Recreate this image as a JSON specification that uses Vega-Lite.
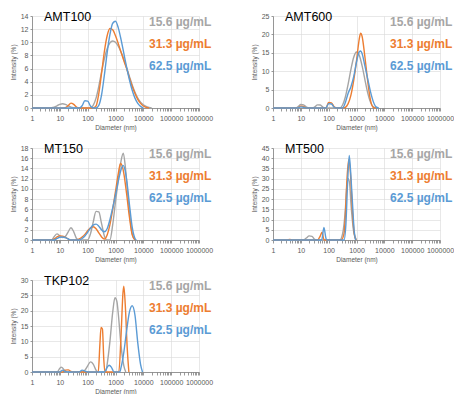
{
  "$schema": "https://vega.github.io/schema/vega-lite/v6.json",
  "background": "white",
  "padding": {"left": 10, "top": 10, "right": 0, "bottom": 0},
  "datasets": {
    "AMT100": [
      {"c":"15.6","d":1,"i":0},{"c":"15.6","d":3.98,"i":0.01},{"c":"15.6","d":5.01,"i":0.04},{"c":"15.6","d":6.31,"i":0.14},{"c":"15.6","d":7.94,"i":0.33},{"c":"15.6","d":10,"i":0.55},{"c":"15.6","d":12.6,"i":0.65},{"c":"15.6","d":15.8,"i":0.55},{"c":"15.6","d":20,"i":0.33},{"c":"15.6","d":25.1,"i":0.14},{"c":"15.6","d":31.6,"i":0.04},{"c":"15.6","d":39.8,"i":0},{"c":"15.6","d":126,"i":0},{"c":"15.6","d":158,"i":0.4},{"c":"15.6","d":200,"i":1.5},{"c":"15.6","d":251,"i":3.3},{"c":"15.6","d":316,"i":5.5},{"c":"15.6","d":398,"i":7.5},{"c":"15.6","d":501,"i":9.0},{"c":"15.6","d":631,"i":9.9},{"c":"15.6","d":794,"i":10.2},{"c":"15.6","d":1000,"i":10.0},{"c":"15.6","d":1259,"i":9.4},{"c":"15.6","d":1585,"i":8.5},{"c":"15.6","d":1995,"i":7.4},{"c":"15.6","d":2512,"i":6.1},{"c":"15.6","d":3162,"i":4.8},{"c":"15.6","d":3981,"i":3.5},{"c":"15.6","d":5012,"i":2.4},{"c":"15.6","d":6310,"i":1.5},{"c":"15.6","d":7943,"i":0.9},{"c":"15.6","d":10000,"i":0.5},{"c":"15.6","d":12589,"i":0.25},{"c":"15.6","d":15849,"i":0.1},{"c":"15.6","d":19953,"i":0},
      {"c":"31.3","d":1,"i":0},{"c":"31.3","d":12.6,"i":0},{"c":"31.3","d":15.8,"i":0.07},{"c":"31.3","d":20,"i":0.36},{"c":"31.3","d":25.1,"i":0.74},{"c":"31.3","d":31.6,"i":0.55},{"c":"31.3","d":39.8,"i":0.15},{"c":"31.3","d":50.1,"i":0},{"c":"31.3","d":158,"i":0},{"c":"31.3","d":200,"i":0.3},{"c":"31.3","d":251,"i":2.2},{"c":"31.3","d":316,"i":5.3},{"c":"31.3","d":398,"i":8.6},{"c":"31.3","d":501,"i":11.0},{"c":"31.3","d":631,"i":12.1},{"c":"31.3","d":794,"i":11.9},{"c":"31.3","d":1000,"i":11.0},{"c":"31.3","d":1259,"i":9.8},{"c":"31.3","d":1585,"i":8.5},{"c":"31.3","d":1995,"i":7.2},{"c":"31.3","d":2512,"i":6.0},{"c":"31.3","d":3162,"i":4.6},{"c":"31.3","d":3981,"i":3.3},{"c":"31.3","d":5012,"i":2.2},{"c":"31.3","d":6310,"i":1.3},{"c":"31.3","d":7943,"i":0.7},{"c":"31.3","d":10000,"i":0.3},{"c":"31.3","d":12589,"i":0.1},{"c":"31.3","d":15849,"i":0},
      {"c":"62.5","d":1,"i":0},{"c":"62.5","d":50.1,"i":0},{"c":"62.5","d":63.1,"i":0.35},{"c":"62.5","d":79.4,"i":1.1},{"c":"62.5","d":100,"i":1.05},{"c":"62.5","d":126,"i":0.3},{"c":"62.5","d":158,"i":0},{"c":"62.5","d":200,"i":0},{"c":"62.5","d":251,"i":0.4},{"c":"62.5","d":316,"i":2.0},{"c":"62.5","d":398,"i":5.0},{"c":"62.5","d":501,"i":8.4},{"c":"62.5","d":631,"i":11.2},{"c":"62.5","d":794,"i":12.9},{"c":"62.5","d":1000,"i":13.2},{"c":"62.5","d":1259,"i":12.2},{"c":"62.5","d":1585,"i":10.4},{"c":"62.5","d":1995,"i":8.3},{"c":"62.5","d":2512,"i":6.2},{"c":"62.5","d":3162,"i":4.3},{"c":"62.5","d":3981,"i":2.7},{"c":"62.5","d":5012,"i":1.5},{"c":"62.5","d":6310,"i":0.7},{"c":"62.5","d":7943,"i":0.25},{"c":"62.5","d":10000,"i":0}
    ],
    "AMT600": [
      {"c":"15.6","d":1,"i":0},{"c":"15.6","d":6.31,"i":0},{"c":"15.6","d":7.94,"i":0.35},{"c":"15.6","d":10,"i":0.95},{"c":"15.6","d":12.6,"i":0.85},{"c":"15.6","d":15.8,"i":0.25},{"c":"15.6","d":20,"i":0},{"c":"15.6","d":25.1,"i":0},{"c":"15.6","d":31.6,"i":0.3},{"c":"15.6","d":39.8,"i":0.85},{"c":"15.6","d":50.1,"i":0.8},{"c":"15.6","d":63.1,"i":0.2},{"c":"15.6","d":79.4,"i":0},{"c":"15.6","d":251,"i":0},{"c":"15.6","d":316,"i":0.8},{"c":"15.6","d":398,"i":3.0},{"c":"15.6","d":501,"i":6.5},{"c":"15.6","d":631,"i":10.5},{"c":"15.6","d":794,"i":13.8},{"c":"15.6","d":1000,"i":15.2},{"c":"15.6","d":1259,"i":14.3},{"c":"15.6","d":1585,"i":11.5},{"c":"15.6","d":1995,"i":7.8},{"c":"15.6","d":2512,"i":4.2},{"c":"15.6","d":3162,"i":1.6},{"c":"15.6","d":3981,"i":0.3},{"c":"15.6","d":5012,"i":0},
      {"c":"31.3","d":1,"i":0},{"c":"31.3","d":7.94,"i":0},{"c":"31.3","d":10,"i":0.5},{"c":"31.3","d":12.6,"i":0.4},{"c":"31.3","d":15.8,"i":0},{"c":"31.3","d":79.4,"i":0},{"c":"31.3","d":100,"i":1.5},{"c":"31.3","d":126,"i":1.4},{"c":"31.3","d":158,"i":0.3},{"c":"31.3","d":200,"i":0},{"c":"31.3","d":316,"i":0},{"c":"31.3","d":398,"i":0.2},{"c":"31.3","d":501,"i":1.2},{"c":"31.3","d":631,"i":3.5},{"c":"31.3","d":794,"i":7.5},{"c":"31.3","d":1000,"i":12.8},{"c":"31.3","d":1122,"i":16.0},{"c":"31.3","d":1259,"i":18.8},{"c":"31.3","d":1413,"i":20.3},{"c":"31.3","d":1585,"i":19.5},{"c":"31.3","d":1995,"i":14.0},{"c":"31.3","d":2512,"i":7.5},{"c":"31.3","d":3162,"i":2.2},{"c":"31.3","d":3981,"i":0.2},{"c":"31.3","d":5012,"i":0},
      {"c":"62.5","d":1,"i":0},{"c":"62.5","d":7.94,"i":0},{"c":"62.5","d":10,"i":0.3},{"c":"62.5","d":12.6,"i":0.2},{"c":"62.5","d":15.8,"i":0},{"c":"62.5","d":79.4,"i":0},{"c":"62.5","d":100,"i":1.2},{"c":"62.5","d":126,"i":1.1},{"c":"62.5","d":158,"i":0.2},{"c":"62.5","d":200,"i":0},{"c":"62.5","d":316,"i":0},{"c":"62.5","d":398,"i":1.5},{"c":"62.5","d":501,"i":4.0},{"c":"62.5","d":631,"i":5.8},{"c":"62.5","d":794,"i":8.5},{"c":"62.5","d":1000,"i":12.5},{"c":"62.5","d":1259,"i":15.3},{"c":"62.5","d":1413,"i":15.5},{"c":"62.5","d":1585,"i":14.8},{"c":"62.5","d":1995,"i":11.5},{"c":"62.5","d":2512,"i":8.0},{"c":"62.5","d":3162,"i":4.5},{"c":"62.5","d":3981,"i":1.8},{"c":"62.5","d":5012,"i":0.3},{"c":"62.5","d":6310,"i":0}
    ],
    "MT150": [
      {"c":"15.6","d":1,"i":0},{"c":"15.6","d":5.01,"i":0},{"c":"15.6","d":6.31,"i":0.7},{"c":"15.6","d":7.94,"i":1.2},{"c":"15.6","d":10,"i":0.8},{"c":"15.6","d":12.6,"i":0.5},{"c":"15.6","d":15.8,"i":0.7},{"c":"15.6","d":20,"i":1.6},{"c":"15.6","d":25.1,"i":2.4},{"c":"15.6","d":31.6,"i":1.6},{"c":"15.6","d":39.8,"i":0.3},{"c":"15.6","d":50.1,"i":0},{"c":"15.6","d":100,"i":0},{"c":"15.6","d":126,"i":1.2},{"c":"15.6","d":158,"i":3.5},{"c":"15.6","d":200,"i":5.6},{"c":"15.6","d":251,"i":5.5},{"c":"15.6","d":316,"i":3.2},{"c":"15.6","d":398,"i":0.8},{"c":"15.6","d":501,"i":0},{"c":"15.6","d":631,"i":0},{"c":"15.6","d":794,"i":3.0},{"c":"15.6","d":1000,"i":7.5},{"c":"15.6","d":1259,"i":11.8},{"c":"15.6","d":1585,"i":15.5},{"c":"15.6","d":1905,"i":17.0},{"c":"15.6","d":2239,"i":14.5},{"c":"15.6","d":2512,"i":11.5},{"c":"15.6","d":3162,"i":5.5},{"c":"15.6","d":3981,"i":1.2},{"c":"15.6","d":5012,"i":0},
      {"c":"31.3","d":1,"i":0},{"c":"31.3","d":5.01,"i":0},{"c":"31.3","d":6.31,"i":0.2},{"c":"31.3","d":7.94,"i":0.6},{"c":"31.3","d":10,"i":0.8},{"c":"31.3","d":12.6,"i":0.75},{"c":"31.3","d":15.8,"i":0.5},{"c":"31.3","d":20,"i":0.2},{"c":"31.3","d":25.1,"i":0},{"c":"31.3","d":39.8,"i":0},{"c":"31.3","d":50.1,"i":0.2},{"c":"31.3","d":63.1,"i":0.6},{"c":"31.3","d":79.4,"i":1.1},{"c":"31.3","d":100,"i":1.8},{"c":"31.3","d":126,"i":2.4},{"c":"31.3","d":158,"i":2.6},{"c":"31.3","d":200,"i":2.2},{"c":"31.3","d":251,"i":1.4},{"c":"31.3","d":316,"i":0.6},{"c":"31.3","d":398,"i":0.2},{"c":"31.3","d":501,"i":1.0},{"c":"31.3","d":631,"i":3.0},{"c":"31.3","d":794,"i":6.0},{"c":"31.3","d":1000,"i":9.5},{"c":"31.3","d":1259,"i":13.0},{"c":"31.3","d":1514,"i":15.0},{"c":"31.3","d":1778,"i":14.3},{"c":"31.3","d":1995,"i":13.0},{"c":"31.3","d":2512,"i":9.0},{"c":"31.3","d":3162,"i":4.5},{"c":"31.3","d":3981,"i":1.0},{"c":"31.3","d":5012,"i":0},
      {"c":"62.5","d":1,"i":0},{"c":"62.5","d":6.31,"i":0},{"c":"62.5","d":7.94,"i":0.3},{"c":"62.5","d":10,"i":0.55},{"c":"62.5","d":12.6,"i":0.6},{"c":"62.5","d":15.8,"i":0.45},{"c":"62.5","d":20,"i":0.2},{"c":"62.5","d":25.1,"i":0},{"c":"62.5","d":50.1,"i":0},{"c":"62.5","d":63.1,"i":0.3},{"c":"62.5","d":79.4,"i":0.8},{"c":"62.5","d":100,"i":1.5},{"c":"62.5","d":126,"i":2.3},{"c":"62.5","d":158,"i":2.9},{"c":"62.5","d":200,"i":3.1},{"c":"62.5","d":251,"i":2.7},{"c":"62.5","d":316,"i":2.0},{"c":"62.5","d":398,"i":1.6},{"c":"62.5","d":501,"i":2.2},{"c":"62.5","d":631,"i":4.0},{"c":"62.5","d":794,"i":6.3},{"c":"62.5","d":1000,"i":8.8},{"c":"62.5","d":1259,"i":11.5},{"c":"62.5","d":1585,"i":13.8},{"c":"62.5","d":1862,"i":14.6},{"c":"62.5","d":2239,"i":13.5},{"c":"62.5","d":2512,"i":11.8},{"c":"62.5","d":3162,"i":7.0},{"c":"62.5","d":3981,"i":2.5},{"c":"62.5","d":5012,"i":0.3},{"c":"62.5","d":5623,"i":0}
    ],
    "MT500": [
      {"c":"15.6","d":1,"i":0},{"c":"15.6","d":12.6,"i":0},{"c":"15.6","d":15.8,"i":1.0},{"c":"15.6","d":20,"i":2.0},{"c":"15.6","d":25.1,"i":1.8},{"c":"15.6","d":31.6,"i":0.3},{"c":"15.6","d":39.8,"i":0},{"c":"15.6","d":251,"i":0},{"c":"15.6","d":316,"i":3.0},{"c":"15.6","d":398,"i":15.0},{"c":"15.6","d":447,"i":26.0},{"c":"15.6","d":501,"i":30.0},{"c":"15.6","d":562,"i":28.0},{"c":"15.6","d":631,"i":18.0},{"c":"15.6","d":794,"i":4.0},{"c":"15.6","d":1000,"i":0},
      {"c":"31.3","d":1,"i":0},{"c":"31.3","d":3.16,"i":0},{"c":"31.3","d":3.98,"i":0.3},{"c":"31.3","d":5.01,"i":0},{"c":"31.3","d":39.8,"i":0},{"c":"31.3","d":50.1,"i":2.0},{"c":"31.3","d":57.5,"i":3.8},{"c":"31.3","d":66.1,"i":0.5},{"c":"31.3","d":70.8,"i":0},{"c":"31.3","d":282,"i":0},{"c":"31.3","d":355,"i":3.0},{"c":"31.3","d":398,"i":12.0},{"c":"31.3","d":447,"i":28.0},{"c":"31.3","d":525,"i":39.3},{"c":"31.3","d":603,"i":33.0},{"c":"31.3","d":708,"i":15.0},{"c":"31.3","d":832,"i":3.0},{"c":"31.3","d":955,"i":0},
      {"c":"62.5","d":1,"i":0},{"c":"62.5","d":56.2,"i":0},{"c":"62.5","d":67.6,"i":6.1},{"c":"62.5","d":79.4,"i":1.0},{"c":"62.5","d":85.1,"i":0},{"c":"62.5","d":355,"i":0},{"c":"62.5","d":417,"i":8.0},{"c":"62.5","d":479,"i":28.0},{"c":"62.5","d":550,"i":41.4},{"c":"62.5","d":631,"i":31.0},{"c":"62.5","d":724,"i":17.0},{"c":"62.5","d":832,"i":4.0},{"c":"62.5","d":933,"i":0}
    ],
    "TKP102": [
      {"c":"15.6","d":1,"i":0},{"c":"15.6","d":7.94,"i":0},{"c":"15.6","d":10,"i":1.2},{"c":"15.6","d":11.2,"i":1.6},{"c":"15.6","d":12.6,"i":1.3},{"c":"15.6","d":15.8,"i":0.2},{"c":"15.6","d":17.8,"i":0},{"c":"15.6","d":63.1,"i":0},{"c":"15.6","d":79.4,"i":0.6},{"c":"15.6","d":100,"i":2.0},{"c":"15.6","d":126,"i":3.3},{"c":"15.6","d":158,"i":2.6},{"c":"15.6","d":200,"i":0.6},{"c":"15.6","d":224,"i":0},{"c":"15.6","d":447,"i":0},{"c":"15.6","d":501,"i":2.5},{"c":"15.6","d":631,"i":10.0},{"c":"15.6","d":794,"i":19.5},{"c":"15.6","d":955,"i":24.2},{"c":"15.6","d":1122,"i":23.0},{"c":"15.6","d":1259,"i":19.0},{"c":"15.6","d":1585,"i":8.5},{"c":"15.6","d":1995,"i":2.0},{"c":"15.6","d":2344,"i":0},
      {"c":"31.3","d":1,"i":0},{"c":"31.3","d":12.6,"i":0},{"c":"31.3","d":15.8,"i":0.6},{"c":"31.3","d":20,"i":0.7},{"c":"31.3","d":25.1,"i":0.2},{"c":"31.3","d":28.2,"i":0},{"c":"31.3","d":240,"i":0},{"c":"31.3","d":275,"i":9.0},{"c":"31.3","d":302,"i":14.5},{"c":"31.3","d":339,"i":14.0},{"c":"31.3","d":380,"i":4.0},{"c":"31.3","d":417,"i":0},{"c":"31.3","d":1318,"i":0},{"c":"31.3","d":1585,"i":12.0},{"c":"31.3","d":1862,"i":26.0},{"c":"31.3","d":1995,"i":28.0},{"c":"31.3","d":2239,"i":22.0},{"c":"31.3","d":2630,"i":8.0},{"c":"31.3","d":3020,"i":0},
      {"c":"62.5","d":1,"i":0},{"c":"62.5","d":10,"i":0},{"c":"62.5","d":12.6,"i":0.6},{"c":"62.5","d":15.8,"i":0.2},{"c":"62.5","d":20,"i":0},{"c":"62.5","d":50.1,"i":0},{"c":"62.5","d":63.1,"i":0.6},{"c":"62.5","d":79.4,"i":0.3},{"c":"62.5","d":100,"i":0},{"c":"62.5","d":398,"i":0},{"c":"62.5","d":501,"i":1.5},{"c":"62.5","d":589,"i":2.2},{"c":"62.5","d":708,"i":1.6},{"c":"62.5","d":891,"i":0},{"c":"62.5","d":1413,"i":0},{"c":"62.5","d":1585,"i":1.5},{"c":"62.5","d":1995,"i":6.5},{"c":"62.5","d":2512,"i":13.5},{"c":"62.5","d":3162,"i":19.5},{"c":"62.5","d":3981,"i":21.6},{"c":"62.5","d":5012,"i":18.5},{"c":"62.5","d":6310,"i":9.5},{"c":"62.5","d":7943,"i":2.5},{"c":"62.5","d":9333,"i":0}
    ]
  },
  "columns": 2,
  "spacing": {"row": 11, "column": 38},
  "resolve": {"scale": {"color": "independent", "y": "independent"}, "legend": {"color": "independent"}},
  "concat": [
    {
      "data": {"name": "AMT100"},
      "width": 167, "height": 92,
      "title": "AMT100",
      "mark": {"type": "line", "interpolate": "monotone", "strokeWidth": 1.4},
      "encoding": {
        "x": {"field": "d", "type": "quantitative", "scale": {"type": "log", "domain": [1, 1000000], "nice": false},
              "axis": {"title": "Diameter (nm)", "format": "d", "values": [1,2,3,4,5,6,7,8,9,10,20,30,40,50,60,70,80,90,100,200,300,400,500,600,700,800,900,1000,2000,3000,4000,5000,6000,7000,8000,9000,10000,20000,30000,40000,50000,60000,70000,80000,90000,100000,200000,300000,400000,500000,600000,700000,800000,900000,1000000],
                       "labelExpr": "indexof([1,10,100,1000,10000,100000,1000000], datum.value) >= 0 ? datum.label : ''",
                       "gridOpacity": {"condition": {"test": "indexof([1,10,100,1000,10000,100000,1000000], datum.value) >= 0", "value": 1}, "value": 0}}},
        "y": {"field": "i", "type": "quantitative", "scale": {"domain": [0, 14]}, "axis": {"title": "Intensity (%)", "values": [0,2,4,6,8,10,12,14]}},
        "color": {"field": "c", "type": "nominal", "scale": {"domain": ["15.6","31.3","62.5"], "range": ["#a5a5a5","#ed7d31","#5b9bd5"]},
                  "legend": {"orient": "none", "legendX": 105, "legendY": 0, "labelExpr": "datum.label + ' µg/mL'",
                             "labelColor": {"expr": "datum.value === '15.6' ? '#a6a6a6' : datum.value === '31.3' ? '#ed7d31' : '#5b9bd5'"}}}
      }
    },
    {
      "data": {"name": "AMT600"},
      "width": 167, "height": 92,
      "title": "AMT600",
      "mark": {"type": "line", "interpolate": "monotone", "strokeWidth": 1.4},
      "encoding": {
        "x": {"field": "d", "type": "quantitative", "scale": {"type": "log", "domain": [1, 1000000], "nice": false},
              "axis": {"title": "Diameter (nm)", "format": "d", "values": [1,2,3,4,5,6,7,8,9,10,20,30,40,50,60,70,80,90,100,200,300,400,500,600,700,800,900,1000,2000,3000,4000,5000,6000,7000,8000,9000,10000,20000,30000,40000,50000,60000,70000,80000,90000,100000,200000,300000,400000,500000,600000,700000,800000,900000,1000000],
                       "labelExpr": "indexof([1,10,100,1000,10000,100000,1000000], datum.value) >= 0 ? datum.label : ''",
                       "gridOpacity": {"condition": {"test": "indexof([1,10,100,1000,10000,100000,1000000], datum.value) >= 0", "value": 1}, "value": 0}}},
        "y": {"field": "i", "type": "quantitative", "scale": {"domain": [0, 25]}, "axis": {"title": "Intensity (%)", "values": [0,5,10,15,20,25]}},
        "color": {"field": "c", "type": "nominal", "scale": {"domain": ["15.6","31.3","62.5"], "range": ["#a5a5a5","#ed7d31","#5b9bd5"]},
                  "legend": {"orient": "none", "legendX": 105, "legendY": 0, "labelExpr": "datum.label + ' µg/mL'",
                             "labelColor": {"expr": "datum.value === '15.6' ? '#a6a6a6' : datum.value === '31.3' ? '#ed7d31' : '#5b9bd5'"}}}
      }
    },
    {
      "data": {"name": "MT150"},
      "width": 167, "height": 92,
      "title": "MT150",
      "mark": {"type": "line", "interpolate": "monotone", "strokeWidth": 1.4},
      "encoding": {
        "x": {"field": "d", "type": "quantitative", "scale": {"type": "log", "domain": [1, 1000000], "nice": false},
              "axis": {"title": "Diameter (nm)", "format": "d", "values": [1,2,3,4,5,6,7,8,9,10,20,30,40,50,60,70,80,90,100,200,300,400,500,600,700,800,900,1000,2000,3000,4000,5000,6000,7000,8000,9000,10000,20000,30000,40000,50000,60000,70000,80000,90000,100000,200000,300000,400000,500000,600000,700000,800000,900000,1000000],
                       "labelExpr": "indexof([1,10,100,1000,10000,100000,1000000], datum.value) >= 0 ? datum.label : ''",
                       "gridOpacity": {"condition": {"test": "indexof([1,10,100,1000,10000,100000,1000000], datum.value) >= 0", "value": 1}, "value": 0}}},
        "y": {"field": "i", "type": "quantitative", "scale": {"domain": [0, 18]}, "axis": {"title": "Intensity (%)", "values": [0,2,4,6,8,10,12,14,16,18]}},
        "color": {"field": "c", "type": "nominal", "scale": {"domain": ["15.6","31.3","62.5"], "range": ["#a5a5a5","#ed7d31","#5b9bd5"]},
                  "legend": {"orient": "none", "legendX": 105, "legendY": 0, "labelExpr": "datum.label + ' µg/mL'",
                             "labelColor": {"expr": "datum.value === '15.6' ? '#a6a6a6' : datum.value === '31.3' ? '#ed7d31' : '#5b9bd5'"}}}
      }
    },
    {
      "data": {"name": "MT500"},
      "width": 167, "height": 92,
      "title": "MT500",
      "mark": {"type": "line", "interpolate": "monotone", "strokeWidth": 1.4},
      "encoding": {
        "x": {"field": "d", "type": "quantitative", "scale": {"type": "log", "domain": [1, 1000000], "nice": false},
              "axis": {"title": "Diameter (nm)", "format": "d", "values": [1,2,3,4,5,6,7,8,9,10,20,30,40,50,60,70,80,90,100,200,300,400,500,600,700,800,900,1000,2000,3000,4000,5000,6000,7000,8000,9000,10000,20000,30000,40000,50000,60000,70000,80000,90000,100000,200000,300000,400000,500000,600000,700000,800000,900000,1000000],
                       "labelExpr": "indexof([1,10,100,1000,10000,100000,1000000], datum.value) >= 0 ? datum.label : ''",
                       "gridOpacity": {"condition": {"test": "indexof([1,10,100,1000,10000,100000,1000000], datum.value) >= 0", "value": 1}, "value": 0}}},
        "y": {"field": "i", "type": "quantitative", "scale": {"domain": [0, 45]}, "axis": {"title": "Intensity (%)", "values": [0,5,10,15,20,25,30,35,40,45]}},
        "color": {"field": "c", "type": "nominal", "scale": {"domain": ["15.6","31.3","62.5"], "range": ["#a5a5a5","#ed7d31","#5b9bd5"]},
                  "legend": {"orient": "none", "legendX": 105, "legendY": 0, "labelExpr": "datum.label + ' µg/mL'",
                             "labelColor": {"expr": "datum.value === '15.6' ? '#a6a6a6' : datum.value === '31.3' ? '#ed7d31' : '#5b9bd5'"}}}
      }
    },
    {
      "data": {"name": "TKP102"},
      "width": 167, "height": 92,
      "title": "TKP102",
      "mark": {"type": "line", "interpolate": "monotone", "strokeWidth": 1.4},
      "encoding": {
        "x": {"field": "d", "type": "quantitative", "scale": {"type": "log", "domain": [1, 1000000], "nice": false},
              "axis": {"title": "Diameter (nm)", "format": "d", "values": [1,2,3,4,5,6,7,8,9,10,20,30,40,50,60,70,80,90,100,200,300,400,500,600,700,800,900,1000,2000,3000,4000,5000,6000,7000,8000,9000,10000,20000,30000,40000,50000,60000,70000,80000,90000,100000,200000,300000,400000,500000,600000,700000,800000,900000,1000000],
                       "labelExpr": "indexof([1,10,100,1000,10000,100000,1000000], datum.value) >= 0 ? datum.label : ''",
                       "gridOpacity": {"condition": {"test": "indexof([1,10,100,1000,10000,100000,1000000], datum.value) >= 0", "value": 1}, "value": 0}}},
        "y": {"field": "i", "type": "quantitative", "scale": {"domain": [0, 30]}, "axis": {"title": "Intensity (%)", "values": [0,5,10,15,20,25,30]}},
        "color": {"field": "c", "type": "nominal", "scale": {"domain": ["15.6","31.3","62.5"], "range": ["#a5a5a5","#ed7d31","#5b9bd5"]},
                  "legend": {"orient": "none", "legendX": 105, "legendY": 0, "labelExpr": "datum.label + ' µg/mL'",
                             "labelColor": {"expr": "datum.value === '15.6' ? '#a6a6a6' : datum.value === '31.3' ? '#ed7d31' : '#5b9bd5'"}}}
      }
    }
  ],
  "config": {
    "view": {"stroke": null},
    "font": "Liberation Sans",
    "title": {"anchor": "start", "frame": "group", "offset": -11, "dx": 12, "baseline": "alphabetic", "fontSize": 12.5, "fontWeight": "normal", "font": "Liberation Sans", "color": "#000000"},
    "axis": {"labelFont": "Liberation Sans", "labelFontSize": 7, "labelColor": "#595959", "titleFont": "Liberation Sans", "titleFontSize": 6.5, "titleFontWeight": "normal", "titleColor": "#595959", "gridColor": "#d9d9d9", "gridWidth": 0.6, "domainColor": "#808080", "tickColor": "#808080", "domainWidth": 0.8, "tickWidth": 0.8, "labelOverlap": false, "labelBound": false, "labelFlush": false},
    "axisY": {"tickSize": 2, "labelPadding": 2, "titlePadding": 4},
    "axisX": {"tickSize": 3, "labelPadding": 3, "titlePadding": 3},
    "legend": {"title": null, "padding": 0, "symbolSize": 0, "symbolStrokeWidth": 0, "symbolOpacity": 0, "labelOffset": 0, "labelFontSize": 12, "labelFontWeight": "bold", "labelFont": "Liberation Sans", "labelLimit": 0, "rowPadding": 10}
  }
}
